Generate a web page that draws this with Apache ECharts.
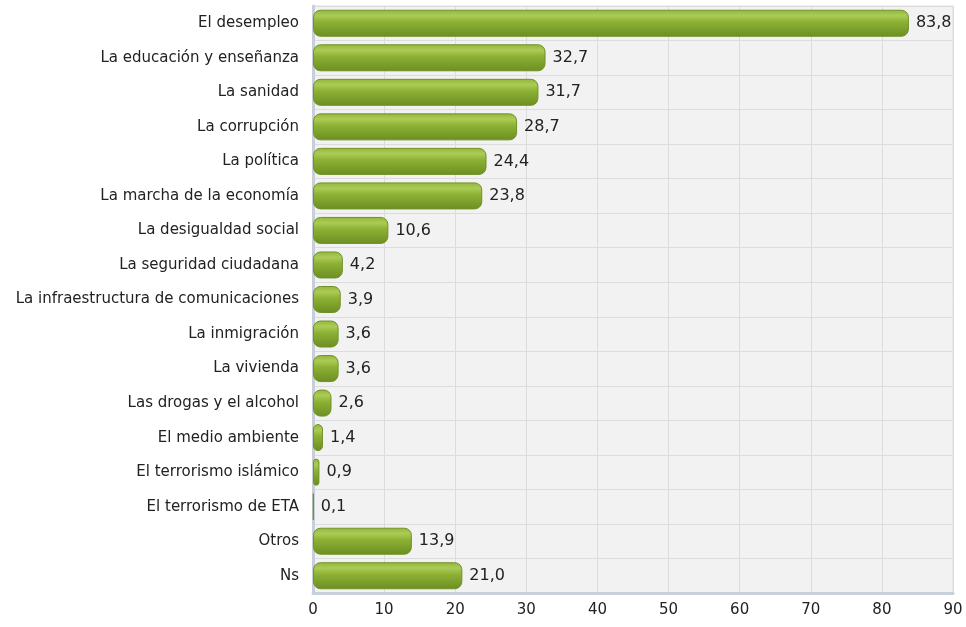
<!DOCTYPE html>
<html>
<head>
<meta charset="utf-8">
<script src="https://cdn.jsdelivr.net/npm/echarts@6/dist/echarts.min.js"></script>
<style>
  html, body { margin: 0; padding: 0; background: #fff; }
  #main { width: 966px; height: 627px; }
</style>
</head>
<body>
<div id="main"></div>
<script>
var categories = [
  'El desempleo',
  'La educación y enseñanza',
  'La sanidad',
  'La corrupción',
  'La política',
  'La marcha de la economía',
  'La desigualdad social',
  'La seguridad ciudadana',
  'La infraestructura de comunicaciones',
  'La inmigración',
  'La vivienda',
  'Las drogas y el alcohol',
  'El medio ambiente',
  'El terrorismo islámico',
  'El terrorismo de ETA',
  'Otros',
  'Ns'
];
var values = [83.8, 32.7, 31.7, 28.7, 24.4, 23.8, 10.6, 4.2, 3.9, 3.6, 3.6, 2.6, 1.4, 0.9, 0.1, 13.9, 21.0];
var xTicks = [0, 10, 20, 30, 40, 50, 60, 70, 80, 90];

var chart = echarts.init(document.getElementById('main'), null, { renderer: 'canvas' });

var font = '"DejaVu Sans", Verdana, sans-serif';

var option = {
  animation: false,
  grid: {
    left: 313,
    right: 13,
    top: 6,
    bottom: 34,
    show: true,
    backgroundColor: '#f2f2f2',
    borderColor: '#d9dee6',
    borderWidth: 1
  },
  xAxis: {
    type: 'value',
    min: xTicks[0],
    max: xTicks[xTicks.length - 1],
    interval: 10,
    axisLine: { show: true, lineStyle: { color: '#c7cfdb', width: 3 } },
    axisTick: { show: false },
    splitLine: { show: true, lineStyle: { color: '#dcdcdc', width: 1 } },
    axisLabel: { color: '#222', fontFamily: font, fontSize: 15, margin: 10 }
  },
  yAxis: {
    type: 'category',
    data: categories,
    inverse: true,
    axisLine: { show: true, lineStyle: { color: '#c7cfdb', width: 3 } },
    axisTick: { show: false },
    splitLine: { show: true, lineStyle: { color: '#dcdcdc', width: 1 } },
    axisLabel: { color: '#222', fontFamily: font, fontSize: 15, margin: 14 }
  },
  series: [{
    type: 'bar',
    data: values,
    barWidth: 27,
    itemStyle: {
      color: new echarts.graphic.LinearGradient(0, 0, 0, 1, [
        { offset: 0, color: '#94b63b' },
        { offset: 0.22, color: '#abcb56' },
        { offset: 0.45, color: '#8db134' },
        { offset: 1, color: '#6b8e22' }
      ]),
      borderColor: '#6f9228',
      borderWidth: 1,
      borderRadius: 7
    },
    label: {
      show: true,
      position: 'right',
      distance: 7,
      color: '#222',
      fontFamily: font,
      fontSize: 16,
      formatter: function (p) { return p.value.toFixed(1).replace('.', ','); }
    }
  }]
};

chart.setOption(option);
</script>
</body>
</html>
